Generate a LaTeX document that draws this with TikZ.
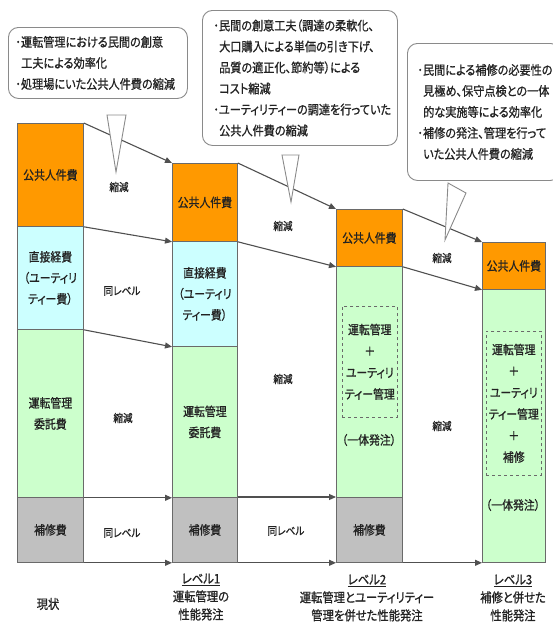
\documentclass[tikz,border=0pt]{standalone}
\usepackage{fontspec}
\setmainfont{Noto Sans CJK JP}[FakeStretch=0.87, FakeBold=0.9, RawFeature={+palt}]
\usetikzlibrary{arrows.meta}
\definecolor{orgc}{HTML}{FF9900}
\definecolor{cyc}{HTML}{CCFFFF}
\definecolor{grc}{HTML}{CCFFCC}
\definecolor{gyc}{HTML}{C0C0C0}
\definecolor{edgec}{HTML}{6A6A6A}
\definecolor{arrc}{HTML}{505050}
\definecolor{boxc}{HTML}{8A8A8A}
\definecolor{txtc}{HTML}{222222}
\begin{document}
\begin{tikzpicture}[x=1pt,y=-1pt, text=txtc,
  seg/.style={draw=edgec, line width=0.8pt, inner sep=0pt, anchor=north west, align=center,
              font=\fontsize{12.5}{21}\selectfont},
  dashbox/.style={draw=edgec, dashed, line width=0.6pt, inner sep=0pt, anchor=north west, align=center,
              font=\fontsize{12.5}{21.5}\selectfont},
  flow/.style={draw=arrc, line width=1.1pt, -{Triangle[length=7pt,width=6pt]}},
  between/.style={font=\fontsize{11}{14}\selectfont, inner sep=0pt},
  ordertxt/.style={font=\fontsize{12.5}{21}\selectfont, inner sep=0pt},
  lvl/.style={font=\fontsize{13}{18}\selectfont, inner sep=0pt, align=center},
  callout/.style={draw=boxc, line width=0.9pt, rounded corners=10pt, fill=white, anchor=north west,
              align=left, font=\fontsize{12.8}{21}\selectfont, inner ysep=0pt},
  pointer/.style={draw=boxc, line width=0.9pt, fill=white}
]
\useasboundingbox (0,0) rectangle (553,635);
\clip (0,0) rectangle (553,635);

% column 1 (current)
\node[seg, fill=orgc, minimum width=66, minimum height=103] (c1o) at (17,123) {公共人件費};
\node[seg, fill=cyc, minimum width=66, minimum height=103] (c1c) at (17,226) {直接経費\\（ユーティリ\\ティー費）};
\node[seg, fill=grc, minimum width=66, minimum height=168] (c1g) at (17,329) {運転管理\\委託費};
\node[seg, fill=gyc, minimum width=66, minimum height=65] (c1r) at (17,497) {補修費};

% column 2 (level 1)
\node[seg, fill=orgc, minimum width=65, minimum height=78] (c2o) at (172,163) {公共人件費};
\node[seg, fill=cyc, minimum width=65, minimum height=105] (c2c) at (172,241) {直接経費\\（ユーティリ\\ティー費）};
\node[seg, fill=grc, minimum width=65, minimum height=151] (c2g) at (172,346) {運転管理\\委託費};
\node[seg, fill=gyc, minimum width=65, minimum height=65] (c2r) at (172,497) {補修費};

% column 3 (level 2)
\node[seg, fill=orgc, minimum width=66, minimum height=57] (c3o) at (336,209) {公共人件費};
\node[seg, fill=grc, minimum width=66, minimum height=231] (c3g) at (336,266) {};
\node[seg, fill=gyc, minimum width=66, minimum height=65] (c3r) at (336,497) {補修費};
\node[dashbox, minimum width=55, minimum height=111] (d3) at (342,306) {運転管理\\＋\\ユーティリ\\ティー管理};
\node[ordertxt] (k3) at (369,440) {（一体発注）};

% column 4 (level 3)
\node[seg, fill=orgc, minimum width=63, minimum height=47] (c4o) at (482,242) {公共人件費};
\node[seg, fill=grc, minimum width=63, minimum height=273] (c4g) at (482,289) {};
\node[dashbox, minimum width=55, minimum height=144] (d4) at (486,331) {運転管理\\＋\\ユーティリ\\ティー管理\\＋\\補修};
\node[ordertxt] (k4) at (513,505) {（一体発注）};

% flows
\draw[flow] (c1o.north east) -- (c2o.north west);
\draw[flow] (c1o.south east) -- (c2o.south west);
\draw[flow] (c1c.south east) -- (c2c.south west);
\draw[flow] (c1g.south east) -- (c2g.south west);
\draw[flow] (c1r.south east) -- (c2r.south west);

\draw[flow] (c2o.north east) -- (c3o.north west);
\draw[flow] (c2o.south east) -- (c3o.south west);
\draw[flow] (c2r.north east) -- (c3r.north west);
\draw[flow] (c2r.south east) -- (c3r.south west);

\draw[flow] (c3o.north east) -- (c4o.north west);
\draw[flow] (c3o.south east) -- (c4o.south west);
\draw[flow] (c3r.south east) -- (c4g.south west);

% labels between columns
\node[between] (s1) at (119,187) {縮減};
\node[between] (s2) at (122,291) {同レベル};
\node[between] (s3) at (123,418) {縮減};
\node[between] (s4) at (122,533) {同レベル};
\node[between] (s5) at (283,226) {縮減};
\node[between] (s6) at (283,379) {縮減};
\node[between] (s7) at (286,531) {同レベル};
\node[between] (s8) at (442,258) {縮減};
\node[between] (s9) at (442,426) {縮減};

% callouts
\node[callout, minimum width=179, minimum height=71, text width=165, inner xsep=7] (b1) at (8,27)
  {･運転管理における民間の創意\\\hspace{0.45em}工夫による効率化\\･処理場にいた公共人件費の縮減};
\node[callout, minimum width=195, minimum height=135, text width=173, inner xsep=11] (b2) at (202,10)
  {･民間の創意工夫（調達の柔軟化、\\\hspace{0.45em}大口購入による単価の引き下げ、\\\hspace{0.45em}品質の適正化、節約等）による\\\hspace{0.45em}コスト縮減\\･ユーティリティーの調達を行っていた\\\hspace{0.45em}公共人件費の縮減};
\node[callout, minimum width=153, minimum height=137, text width=133, inner xsep=10] (b3) at (407,43)
  {･民間による補修の必要性の\\\hspace{0.45em}見極め、保守点検との一体\\\hspace{0.45em}的な実施等による効率化\\･補修の発注、管理を行って\\\hspace{0.45em}いた公共人件費の縮減};

% pointers
\draw[pointer] (107,115) -- (126,115) -- (116,172) -- cycle;
\draw[pointer] (282,155) -- (299,155) -- (291,202) -- cycle;
\draw[pointer] (448,183) -- (466,193) -- (445,240) -- cycle;

% bottom captions
\node[lvl] (n0) at (48,604) {現状};
\node[lvl] (n1) at (201,597) {\underline{レベル1}\\運転管理の\\性能発注};
\node[lvl] (n2) at (367,598) {\underline{レベル2}\\運転管理とユーティリティー\\管理を併せた性能発注};
\node[lvl] (n3) at (513,598) {\underline{レベル3}\\補修と併せた\\性能発注};
\end{tikzpicture}
\end{document}
